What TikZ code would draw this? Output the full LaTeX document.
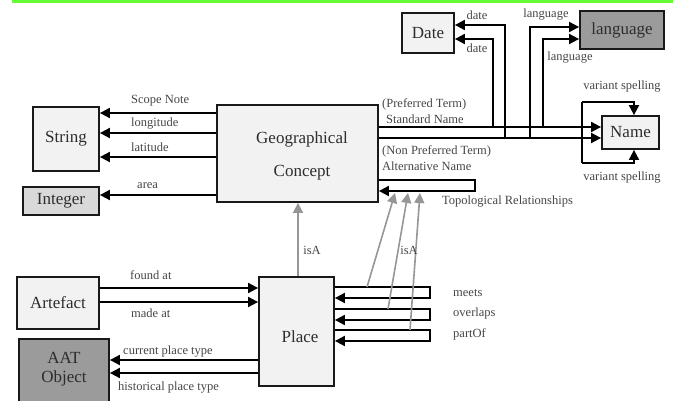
\documentclass[tikz,border=0pt]{standalone}
\usepackage{fontspec}
\setmainfont{Liberation Serif}
\usetikzlibrary{arrows.meta}
\definecolor{barGreen}{RGB}{102,255,51}
\definecolor{boxLight}{RGB}{242,242,242}
\definecolor{boxMid}{RGB}{217,217,217}
\definecolor{boxDark}{RGB}{155,155,155}
\definecolor{isaGray}{RGB}{150,150,150}
\definecolor{labelDark}{RGB}{45,45,45}
\definecolor{labelGray}{RGB}{70,70,70}
\begin{document}
\begin{tikzpicture}[x=1pt,y=-1pt,
  box/.style={draw=black!90, line width=1.8pt, fill=boxLight, inner sep=0pt,
    font=\fontsize{17}{20}\selectfont, text=labelDark},
  big/.style={inner sep=0pt, font=\fontsize{17}{20}\selectfont, text=labelDark},
  lbl/.style={inner sep=0pt, font=\fontsize{12.5}{14}\selectfont, text=labelGray},
  rel/.style={line width=1.9pt, -{Triangle[length=10pt,width=10pt]}},
  plain/.style={line width=1.9pt},
  isa/.style={draw=isaGray, line width=1.6pt, -{Triangle[length=10pt,width=10pt]}}]

\useasboundingbox (0,0) rectangle (673,401);
\fill[barGreen] (12,0) rectangle (673,3);

% ---- boxes ----
\node[box, minimum width=52pt, minimum height=40pt] (date) at (428,33) {Date};
\node[box, fill=boxDark, minimum width=84pt, minimum height=38pt] (lang) at (622,30) {language};
\node[box, minimum width=57pt, minimum height=33pt] (name) at (630.5,132.5) {Name};
\node[box, minimum width=66pt, minimum height=64pt] (str) at (66,139) {String};
\node[box, fill=boxMid, minimum width=76pt, minimum height=28pt] (int) at (61,201) {Integer};
\node[box, minimum width=161pt, minimum height=97pt] (gc) at (297.5,153.5) {};
\node[big] (gcA) at (302,139) {Geographical};
\node[big] (gcB) at (302,173) {Concept};
\node[box, minimum width=82pt, minimum height=52pt] (art) at (58,303) {Artefact};
\node[box, fill=boxDark, minimum width=90pt, minimum height=76pt] (aat) at (64,377) {};
\node[big] (aatA) at (64,358) {AAT};
\node[big] (aatB) at (64,378) {Object};
\node[box, minimum width=75pt, minimum height=109pt] (place) at (296.5,331.5) {};
\node[big] (placeT) at (300,337) {Place};

% ---- Geographical Concept -> String / Integer ----
\draw[rel] (gc.west |- 0,113) -- (str.east |- 0,113);
\draw[rel] (gc.west |- 0,133) -- (str.east |- 0,133);
\draw[rel] (gc.west |- 0,157) -- (str.east |- 0,157);
\draw[rel] (gc.west |- 0,195) -- (int.east |- 0,195);
\node[lbl, anchor=west] (lSN) at (131,101) {Scope Note};
\node[lbl, anchor=west] (lLo) at (131,124) {longitude};
\node[lbl, anchor=west] (lLa) at (131,147) {latitude};
\node[lbl, anchor=west] (lAr) at (137,186) {area};

% ---- Geographical Concept -> Name ----
\draw[rel] (gc.east |- 0,127) -- (name.west |- 0,127);
\draw[rel] (gc.east |- 0,138) -- (name.west |- 0,138);
\node[lbl, anchor=west] (lPT) at (382,104) {(Preferred Term)};
\node[lbl, anchor=west] (lSt) at (386,119) {Standard Name};
\node[lbl, anchor=west] (lNP) at (382,151) {(Non Preferred Term)};
\node[lbl, anchor=west] (lAl) at (382,166) {Alternative Name};

% ---- Name -> Date / language ----
\coordinate (jD1) at (505,138);
\coordinate (jD2) at (493,127);
\coordinate (jL1) at (530,138);
\coordinate (jL2) at (543,127);
\draw[rel] (jD1) |- (date.east |- 0,25);
\draw[rel] (jD2) |- (date.east |- 0,39);
\draw[rel] (jL1) |- (lang.west |- 0,27);
\draw[rel] (jL2) |- (lang.west |- 0,39);
\node[lbl] (lD1) at (477,15) {date};
\node[lbl] (lD2) at (477,48) {date};
\node[lbl] (lL1) at (546,15) {language};
\node[lbl] (lL2) at (570,58) {language};

% ---- variant spelling self loops ----
\coordinate (vsTop) at (582,102);
\coordinate (vsBot) at (582,163);
\draw[plain] (vsTop) -- (vsBot);
\draw[rel] (vsTop) -- (634,102) -- (name.north -| 634,0);
\draw[rel] (vsBot) -- (634,163) -- (name.south -| 634,0);
\node[lbl] (lV1) at (622,87) {variant spelling};
\node[lbl] (lV2) at (622,178) {variant spelling};

% ---- topological relationships ----
\draw[rel] (gc.east |- 0,180) -- (475,180) -- (475,191) -- (gc.east |- 0,191);
\node[lbl, anchor=west] (lTR) at (442,202) {Topological Relationships};

% ---- Place relationships ----
\draw[rel] (place.east |- 0,287) -- (430,287) -- (430,298) -- (place.east |- 0,298);
\draw[rel] (place.east |- 0,309) -- (430,309) -- (430,320) -- (place.east |- 0,320);
\draw[rel] (place.east |- 0,330) -- (430,330) -- (430,341) -- (place.east |- 0,341);
\node[lbl, anchor=west] (lMe) at (453,293) {meets};
\node[lbl, anchor=west] (lOv) at (453,313) {overlaps};
\node[lbl, anchor=west] (lPa) at (453,334) {partOf};

% ---- isA links ----
\coordinate (iMe) at (367,287);
\coordinate (iOv) at (388,309);
\coordinate (iPa) at (410,330);
\draw[isa] (iMe) -- (395,193);
\draw[isa] (iOv) -- (408,193);
\draw[isa] (iPa) -- (420,193);
\draw[isa] (place.north -| 298,0) -- (gc.south -| 298,0);
\node[lbl] (lI1) at (312,250) {isA};
\node[lbl] (lI2) at (409,250) {isA};

% ---- Artefact / AAT Object ----
\draw[rel] (art.east |- 0,288) -- (place.west |- 0,288);
\draw[rel] (art.east |- 0,302) -- (place.west |- 0,302);
\node[lbl, anchor=west] (lFo) at (130,275) {found at};
\node[lbl, anchor=west] (lMa) at (131,313) {made at};
\draw[rel] (place.west |- 0,360) -- (aat.east |- 0,360);
\draw[rel] (place.west |- 0,373) -- (aat.east |- 0,373);
\node[lbl, anchor=west] (lCu) at (123,352) {current place type};
\node[lbl, anchor=west] (lHi) at (118,388) {historical place type};
\end{tikzpicture}
\end{document}
